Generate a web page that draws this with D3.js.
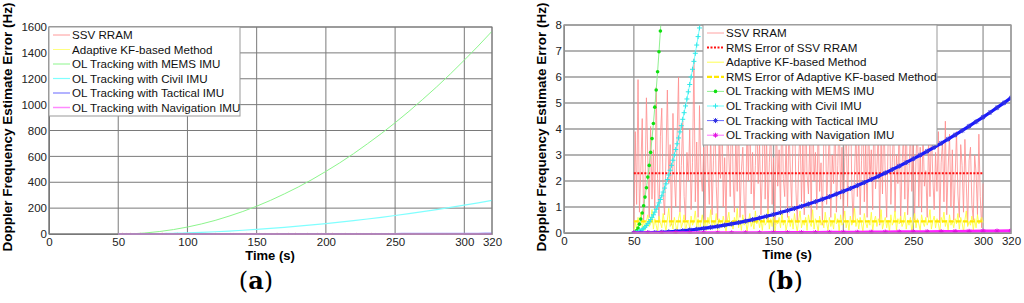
<!DOCTYPE html>
<html>
<head>
<meta charset="utf-8">
<script src="https://cdn.jsdelivr.net/npm/d3@7"></script>
<style>
  body { margin: 0; background: #fff; }
  svg text { font-family: "Liberation Sans", Arial, sans-serif; }
</style>
</head>
<body>
<svg id="svg1" width="1024" height="303"></svg>
<script>
// ---- data ----
var xTicks = [0, 50, 100, 150, 200, 250, 300, 320];
var yTicksA = [0, 200, 400, 600, 800, 1000, 1200, 1400, 1600];
var yTicksB = [0, 1, 2, 3, 4, 5, 6, 7, 8];

// SSV RRAM error, one value per second from 50 to 300 s
var ssvRram = [
  0.2, 3.9, 1.1, 5.9, 0.8, 2.4, 4.4, 0.5, 1.7, 5.2,
  2.8, 0.6, 4.1, 1.3, 3.2, 0.9, 5.6, 2.1, 0.4, 3.7,
  4.8, 1.5, 0.7, 2.9, 5.5, 1.9, 3.4, 0.3, 4.6, 2.2,
  1.0, 3.8, 6.0, 0.8, 2.6, 4.3, 1.4, 0.5, 3.1, 2.0,
  4.0, 0.9, 2.7, 6.7, 1.2, 3.5, 0.6, 4.9, 2.3, 1.6,
  3.3, 0.4, 5.1, 2.5, 1.1, 3.9, 0.7, 2.8, 4.5, 1.8,
  0.5, 3.6, 2.1, 5.3, 1.0, 2.9, 0.3, 4.2, 3.0, 1.4,
  5.8, 2.2, 0.8, 3.7, 1.6, 4.7, 0.6, 2.4, 3.3, 1.2,
  0.4, 4.4, 2.0, 5.0, 1.5, 3.1, 0.9, 2.6, 4.8, 1.9,
  3.5, 0.7, 2.3, 5.7, 1.3, 3.8, 0.5, 2.7, 4.1, 1.1,
  2.9, 0.3, 4.6, 1.8, 3.2, 0.8, 5.4, 2.1, 1.4, 3.6,
  0.6, 4.3, 2.5, 1.0, 3.9, 5.1, 1.7, 0.4, 2.8, 4.0,
  1.2, 3.4, 0.7, 4.9, 2.2, 1.5, 3.7, 0.5, 5.6, 2.0,
  3.1, 0.9, 4.5, 1.6, 2.7, 0.3, 3.8, 5.2, 1.1, 2.4,
  4.2, 0.6, 3.0, 1.9, 5.0, 0.8, 2.6, 4.7, 1.3, 3.3,
  0.5, 2.9, 4.4, 1.0, 3.6, 5.9, 1.8, 0.4, 2.3, 3.9,
  1.4, 4.1, 0.7, 2.8, 5.3, 1.2, 3.5, 0.6, 4.6, 2.0,
  3.2, 0.9, 5.5, 1.7, 2.5, 4.0, 0.3, 3.7, 1.5, 4.8,
  2.1, 0.6, 3.4, 5.1, 1.1, 2.7, 4.3, 0.8, 3.0, 1.9,
  4.5, 0.4, 2.6, 3.8, 1.3, 5.0, 0.7, 2.2, 4.1, 1.6,
  3.5, 0.5, 2.9, 4.2, 1.0, 3.3, 0.8, 4.0, 1.8, 2.4,
  0.6, 3.7, 1.4, 4.1, 2.2, 0.9, 3.1, 1.6, 3.9, 0.4,
  2.7, 3.5, 1.2, 4.3, 0.7, 2.5, 3.8, 1.0, 3.2, 0.5,
  2.1, 3.9, 1.5, 0.6, 3.4, 2.6, 0.8, 3.6, 1.9, 0.3,
  2.8, 3.3, 1.1, 0.5, 3.0, 2.3, 0.7, 3.8, 1.4, 0.2,
  1.9];
// Adaptive KF-based method error, same sampling
var adaptiveKf = [
  0.05, 0.4, 0.15, 0.6, 0.3, 0.8, 0.2, 0.5, 0.1, 0.45,
  0.7, 0.25, 0.35, 0.9, 0.15, 0.55, 0.3, 0.05, 0.65, 0.4,
  0.2, 0.75, 0.35, 0.1, 0.5, 0.95, 0.25, 0.45, 0.15, 0.6,
  0.3, 0.05, 0.55, 0.8, 0.2, 0.4, 0.7, 0.1, 0.35, 0.5,
  0.15, 0.65, 0.3, 0.45, 0.85, 0.2, 0.55, 0.05, 0.4, 0.7,
  0.25, 0.5, 0.1, 0.6, 0.35, 0.9, 0.2, 0.45, 0.3, 0.75,
  0.1, 0.55, 0.4, 0.2, 0.65, 0.3, 0.05, 0.5, 0.8, 0.25,
  0.45, 0.15, 0.6, 0.35, 0.95, 0.2, 0.5, 0.1, 0.7, 0.3,
  0.55, 0.05, 0.4, 0.75, 0.25, 0.45, 0.15, 0.85, 0.35, 0.6,
  0.2, 0.5, 0.1, 0.65, 0.3, 0.4, 0.9, 0.15, 0.55, 0.25,
  0.7, 0.05, 0.45, 0.35, 0.6, 0.2, 0.8, 0.3, 0.5, 0.1,
  0.4, 0.65, 0.25, 0.55, 0.15, 0.75, 0.35, 0.05, 0.5, 0.85,
  0.2, 0.45, 0.3, 0.6, 0.1, 0.7, 0.4, 0.25, 0.9, 0.15,
  0.55, 0.35, 0.05, 0.65, 0.3, 0.5, 0.2, 0.8, 0.4, 0.1,
  0.6, 0.25, 0.45, 0.15, 0.75, 0.35, 0.55, 0.05, 0.7, 0.3,
  0.4, 0.85, 0.2, 0.5, 0.1, 0.65, 0.3, 0.45, 0.95, 0.25,
  0.55, 0.15, 0.6, 0.35, 0.05, 0.75, 0.4, 0.2, 0.5, 0.3,
  0.8, 0.1, 0.45, 0.65, 0.25, 0.55, 0.35, 0.9, 0.15, 0.4,
  0.6, 0.2, 0.5, 0.05, 0.7, 0.3, 0.45, 0.85, 0.1, 0.55,
  0.35, 0.65, 0.25, 0.4, 0.8, 0.15, 0.5, 0.3, 0.6, 0.05,
  0.45, 0.75, 0.2, 0.55, 0.35, 0.1, 0.7, 0.4, 0.25, 0.6,
  0.3, 0.5, 0.9, 0.15, 0.45, 0.65, 0.2, 0.55, 0.35, 0.05,
  0.6, 0.4, 0.8, 0.25, 0.5, 0.1, 0.7, 0.3, 0.45, 0.2,
  0.55, 0.35, 0.75, 0.15, 0.6, 0.4, 0.05, 0.5, 0.85, 0.25,
  0.45, 0.3, 0.65, 0.1, 0.55, 0.2, 0.7, 0.35, 0.5, 0.6,
  0.4];
var rmsSsv = 2.3;
var rmsKf = 0.45;

var memsTime = [50, 51, 52, 53, 54, 55, 56, 57, 58, 59, 60, 61, 62, 63, 64, 65, 66, 67, 68, 69, 70,
  80, 90, 100, 110, 120, 130, 140, 150, 160, 170, 180, 190, 200, 210, 220, 230, 240, 250, 260, 270, 280, 290, 300, 310, 320];
var memsVal = [0, 0.02, 0.09, 0.19, 0.34, 0.54, 0.77, 1.05, 1.38, 1.74, 2.15, 2.6, 3.1, 3.63, 4.21, 4.84, 5.5, 6.2, 6.97, 7.77, 8.6,
  19.4, 34.4, 53.8, 77.4, 105, 138, 174, 215, 260, 310, 363, 421, 484, 550, 621, 697, 776, 860, 948, 1041, 1137, 1238, 1344, 1453, 1567];

var civilTime = [50, 51, 52, 53, 54, 55, 56, 57, 58, 59, 60, 61, 62, 63, 64, 65, 66, 67, 68, 69, 70, 71, 72, 73, 74, 75,
  76, 77, 78, 79, 80, 81, 82, 83, 84, 85, 86, 87, 88, 89, 90, 91, 92, 93, 94, 95, 96, 97, 98, 99, 100,
  110, 120, 130, 140, 150, 160, 170, 180, 190, 200, 210, 220, 230, 240, 250, 260, 270, 280, 290, 300, 310, 320];
var civilVal = [0, 0.004, 0.014, 0.032, 0.057, 0.089, 0.129, 0.175, 0.228, 0.289, 0.357, 0.432, 0.514, 0.603, 0.7, 0.803,
  0.914, 1.032, 1.157, 1.289, 1.428, 1.574, 1.728, 1.889, 2.056, 2.231, 2.413, 2.603, 2.799, 3.002, 3.213, 3.431, 3.656,
  3.888, 4.127, 4.373, 4.627, 4.887, 5.155, 5.43, 5.712, 6.001, 6.297, 6.601, 6.912, 7.229, 7.554, 7.886, 8.225, 8.572, 8.925,
  12.9, 17.5, 22.8, 28.9, 35.7, 43.2, 51.4, 60.3, 70.0, 80.3, 91.4, 103, 116, 129, 143, 157, 173, 189, 206, 223, 241, 260];

var tacticalTime = [50, 55, 60, 65, 70, 75, 80, 85, 90, 95, 100, 105, 110, 115, 120, 125, 130, 135, 140, 145, 150, 155,
  160, 165, 170, 175, 180, 185, 190, 195, 200, 205, 210, 215, 220, 225, 230, 235, 240, 245, 250, 255, 260, 265, 270,
  275, 280, 285, 290, 295, 300, 305, 310, 315, 320];
var tacticalVal = [0, 0.002, 0.007, 0.016, 0.029, 0.045, 0.064, 0.087, 0.114, 0.144, 0.178, 0.216, 0.257, 0.301, 0.349,
  0.401, 0.456, 0.515, 0.578, 0.643, 0.713, 0.786, 0.863, 0.943, 1.027, 1.114, 1.205, 1.299, 1.398, 1.499, 1.604, 1.713,
  1.825, 1.941, 2.061, 2.184, 2.31, 2.44, 2.574, 2.711, 2.852, 2.996, 3.144, 3.296, 3.451, 3.61, 3.772, 3.937, 4.107,
  4.28, 4.456, 4.636, 4.82, 5.007, 5.198];

var navTime = [50, 60, 70, 80, 90, 100, 110, 120, 130, 140, 150, 160, 170, 180, 190, 200, 210, 220, 230, 240, 250,
  260, 270, 280, 290, 300, 310, 320];
var navVal = [0, 0.0001, 0.0004, 0.001, 0.0018, 0.0027, 0.004, 0.0054, 0.007, 0.009, 0.011, 0.013, 0.016, 0.019, 0.022,
  0.025, 0.028, 0.032, 0.036, 0.04, 0.044, 0.049, 0.053, 0.058, 0.063, 0.069, 0.074, 0.08];

function zipSeries(times, vals) {
  return vals.map(function(v, i) { return {t: times[i], v: v}; });
}
function noisySeries(vals) {
  return vals.map(function(v, i) { return {t: 50 + i * 250 / (vals.length - 1), v: v}; });
}

var ssvData = noisySeries(ssvRram);
var kfData = noisySeries(adaptiveKf);
var memsData = zipSeries(memsTime, memsVal);
var civilData = zipSeries(civilTime, civilVal);
var tacticalData = zipSeries(tacticalTime, tacticalVal);
var navData = zipSeries(navTime, navVal);
var rmsSsvData = [{t: 50, v: rmsSsv}, {t: 300, v: rmsSsv}];
var rmsKfData = [{t: 50, v: rmsKf}, {t: 300, v: rmsKf}];

var svg = d3.select('#svg1');
var FONT = '"Liberation Sans", Arial, sans-serif';

function drawPanel(p) {
  var w = p.right - p.left, h = p.bottom - p.top;
  var scaleX = d3.scaleLinear().domain([0, 320]).range([0, w]);
  var scaleY = d3.scaleLinear().domain([0, p.yMax]).range([h, 0]);

  var g = svg.append('g').attr('transform', 'translate(' + p.left + ',' + p.top + ')');

  g.append('clipPath').attr('id', p.id + 'clip')
    .append('rect').attr('x', 0).attr('y', -1).attr('width', w).attr('height', h + 2);

  // grid
  g.append('g').selectAll('line').data(xTicks).enter().append('line')
    .attr('x1', function(d) { return scaleX(d); }).attr('x2', function(d) { return scaleX(d); })
    .attr('y1', 0).attr('y2', h)
    .attr('stroke', p.gridColor).attr('stroke-width', p.gridWidth);
  g.append('g').selectAll('line').data(p.yTicks).enter().append('line')
    .attr('y1', function(d) { return scaleY(d); }).attr('y2', function(d) { return scaleY(d); })
    .attr('x1', 0).attr('x2', w)
    .attr('stroke', p.gridColor).attr('stroke-width', p.gridWidth);

  // axes
  var xAxis = g.append('g').attr('transform', 'translate(0,' + h + ')')
    .call(d3.axisBottom(scaleX).tickValues(xTicks).tickSize(0).tickPadding(4).tickFormat(d3.format('d')));
  var yAxis = g.append('g')
    .call(d3.axisLeft(scaleY).tickValues(p.yTicks).tickSize(0).tickPadding(2).tickFormat(d3.format('d')));
  [xAxis, yAxis].forEach(function(a) {
    a.select('.domain').attr('stroke', '#777');
    a.selectAll('text').attr('font-size', 11.5).attr('fill', '#222').style('font-family', FONT);
  });

  var plot = g.append('g').attr('clip-path', 'url(#' + p.id + 'clip)');
  var line = d3.line().x(function(d) { return scaleX(d.t); }).y(function(d) { return scaleY(d.v); });

  p.series.forEach(function(s) {
    var path = plot.append('path').datum(s.data)
      .attr('d', line).attr('fill', 'none')
      .attr('stroke', s.color).attr('stroke-width', s.width)
      .attr('stroke-linejoin', 'round');
    if (s.dash) path.attr('stroke-dasharray', s.dash);
    if (s.marker) {
      var pts = s.data.filter(function(d) { return d.v <= p.yMax && (!s.markerMaxT || d.t <= s.markerMaxT); });
      drawMarkers(plot, pts.map(function(d) { return [scaleX(d.t), scaleY(d.v)]; }), s.marker, s.markerColor);
    }
  });

  // frame
  g.append('rect').attr('width', w).attr('height', h).attr('fill', 'none')
    .attr('stroke', p.gridColor).attr('stroke-width', p.gridWidth);

  // legend
  var lg = g.append('g').attr('transform', 'translate(' + p.legendX + ',0)');
  lg.append('rect').attr('x', 0).attr('y', 0).attr('width', p.legendW).attr('height', p.legendH)
    .attr('fill', '#fff').attr('stroke', '#999').attr('stroke-width', 1);
  p.series.forEach(function(s, i) {
    var y = p.legendY0 + i * p.legendStep;
    var l = lg.append('line').attr('x1', 4).attr('x2', 21).attr('y1', y).attr('y2', y)
      .attr('stroke', s.legendColor || s.color).attr('stroke-width', s.legendWidth || s.width);
    if (s.dash) l.attr('stroke-dasharray', s.dash);
    if (s.marker) drawMarkers(lg, [[12.5, y]], s.marker, s.markerColor);
    lg.append('text').attr('x', 23).attr('y', y + 4).attr('font-size', 11.6).attr('fill', '#111')
      .text(s.name);
  });

  // labels
  g.append('text').attr('x', p.xLabelX - p.left).attr('y', h + 26)
    .attr('text-anchor', 'middle').attr('font-size', 13).attr('font-weight', 'bold').text('Time (s)');
  g.append('text')
    .attr('transform', 'translate(' + (p.yLabelX - p.left) + ',' + (127 - p.top) + ') rotate(-90)')
    .attr('text-anchor', 'middle').attr('font-size', 13.5).attr('font-weight', 'bold')
    .text('Doppler Frequency Estimate Error (Hz)');

  var cap = svg.append('text').attr('x', p.capX).attr('y', 289).attr('text-anchor', 'middle')
    .attr('font-size', 24).style('font-family', '"DejaVu Serif", "Liberation Serif", serif');
  cap.append('tspan').text('(');
  cap.append('tspan').attr('font-weight', 'bold').text(p.capLetter);
  cap.append('tspan').text(')');
}

function drawMarkers(parent, pts, type, color) {
  var mg = parent.append('g');
  pts.forEach(function(pt) {
    var x = pt[0], y = pt[1];
    if (type === 'dot') {
      mg.append('circle').attr('cx', x).attr('cy', y).attr('r', 1.8).attr('fill', color);
    } else if (type === 'plus') {
      mg.append('path').attr('d', 'M' + (x - 2.5) + ',' + y + 'H' + (x + 2.5) + 'M' + x + ',' + (y - 2.5) + 'V' + (y + 2.5))
        .attr('stroke', color).attr('stroke-width', 1);
    } else if (type === 'star') {
      mg.append('path').attr('d', 'M' + (x - 2.5) + ',' + y + 'H' + (x + 2.5) + 'M' + x + ',' + (y - 2.5) + 'V' + (y + 2.5) +
        'M' + (x - 1.8) + ',' + (y - 1.8) + 'L' + (x + 1.8) + ',' + (y + 1.8) + 'M' + (x - 1.8) + ',' + (y + 1.8) + 'L' + (x + 1.8) + ',' + (y - 1.8))
        .attr('stroke', color).attr('stroke-width', 1);
    }
  });
}

drawPanel({
  id: 'a', left: 49, right: 492, top: 27, bottom: 234, yMax: 1600, yTicks: yTicksA,
  gridColor: '#7a7a7a', gridWidth: 1,
  legendX: 0, legendW: 191, legendH: 89, legendY0: 8, legendStep: 14.5,
  xLabelX: 270, yLabelX: 12, capX: 256, capLetter: 'a',
  series: [
    {name: 'SSV RRAM', data: ssvData, color: '#ff9a9a', width: 1},
    {name: 'Adaptive KF-based Method', data: kfData, color: '#ffff80', width: 1},
    {name: 'OL Tracking with MEMS IMU', data: memsData, color: '#8cf58c', width: 1},
    {name: 'OL Tracking with Civil IMU', data: civilData, color: '#80ffff', width: 1.2},
    {name: 'OL Tracking with Tactical IMU', data: tacticalData, color: '#9a9aff', width: 1.5},
    {name: 'OL Tracking with Navigation IMU', data: navData, color: '#ff8aff', width: 1.5}
  ]
});

drawPanel({
  id: 'b', left: 564, right: 1011, top: 25, bottom: 233, yMax: 8, yTicks: yTicksB,
  gridColor: '#9a9a9a', gridWidth: 1.3,
  legendX: 139, legendW: 234, legendH: 120, legendY0: 8, legendStep: 14.6,
  xLabelX: 787, yLabelX: 546, capX: 785, capLetter: 'b',
  series: [
    {name: 'SSV RRAM', data: ssvData, color: '#ff8c8c', width: 0.8},
    {name: 'RMS Error of SSV RRAM', data: rmsSsvData, color: '#ff1010', width: 2, dash: '2,1.5'},
    {name: 'Adaptive KF-based Method', data: kfData, color: '#ffff40', width: 0.9},
    {name: 'RMS Error of Adaptive KF-based Method', data: rmsKfData, color: '#ffe800', width: 2.2, dash: '5,2'},
    {name: 'OL Tracking with MEMS IMU', data: memsData, color: '#90f090', width: 1, marker: 'dot', markerColor: '#10e010', markerMaxT: 70},
    {name: 'OL Tracking with Civil IMU', data: civilData, color: '#70ffff', width: 1, marker: 'plus', markerColor: '#30e8e8', markerMaxT: 100},
    {name: 'OL Tracking with Tactical IMU', data: tacticalData, color: '#1a1aff', width: 3.2, marker: 'star', markerColor: '#3030e0', legendWidth: 1, legendColor: '#6a6aff'},
    {name: 'OL Tracking with Navigation IMU', data: navData, color: '#ff20ff', width: 3.2, marker: 'star', markerColor: '#e010e0', legendWidth: 1, legendColor: '#ff70ff'}
  ]
});
</script>
</body>
</html>
